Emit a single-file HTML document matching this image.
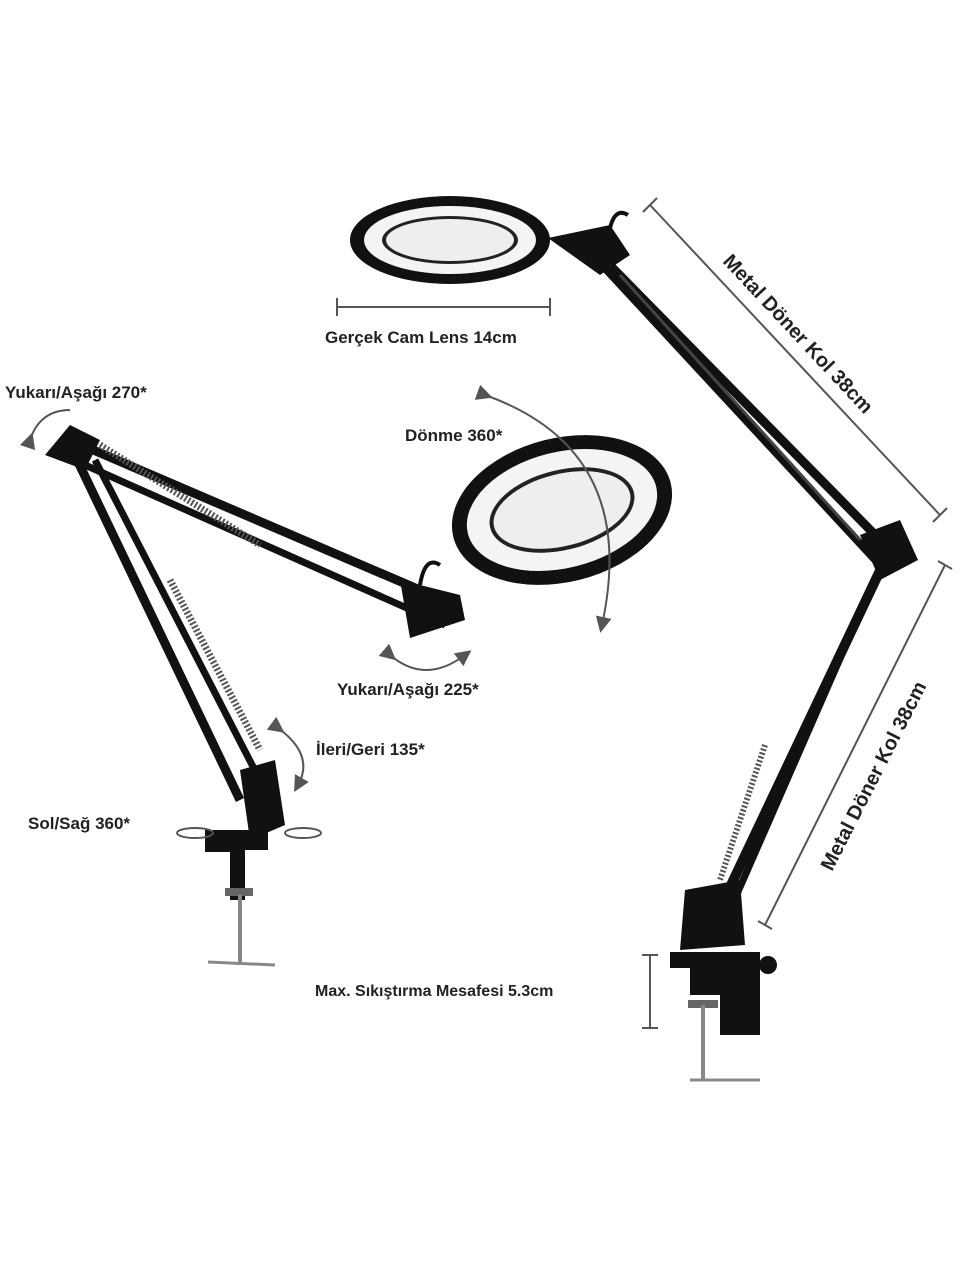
<!DOCTYPE html>
<html><head><meta charset="utf-8"><style>
html,body{margin:0;padding:0;background:#fff}
svg{display:block}
text{font-family:"Liberation Sans",sans-serif;font-weight:bold;fill:#222}
</style></head><body>
<svg width="960" height="1280" viewBox="0 0 960 1280" xmlns="http://www.w3.org/2000/svg">
<defs>
<marker id="ah" markerWidth="8" markerHeight="8" refX="4" refY="4" orient="auto"><path d="M0,0 L8,4 L0,8 z" fill="#555"/></marker>
</defs>
<!-- top ring -->
<ellipse cx="450" cy="240" rx="100" ry="44" fill="#111"/>
<ellipse cx="450" cy="240" rx="86" ry="34" fill="#f4f4f4"/>
<ellipse cx="450" cy="240" rx="68" ry="24" fill="#222"/>
<ellipse cx="450" cy="240" rx="64" ry="21" fill="#eee"/>
<!-- dimension lens -->
<line x1="337" y1="307" x2="550" y2="307" stroke="#555" stroke-width="2"/>
<line x1="337" y1="298" x2="337" y2="316" stroke="#555" stroke-width="2"/>
<line x1="550" y1="298" x2="550" y2="316" stroke="#555" stroke-width="2"/>
<text x="325" y="343" font-size="17">Gerçek Cam Lens 14cm</text>
<!-- right lamp arm upper -->
<path d="M548,238 L610,225 L630,255 L600,275 Z" fill="#111"/>
<path d="M608,240 Q612,205 628,215" stroke="#111" stroke-width="4" fill="none"/>
<line x1="590" y1="245" x2="885" y2="545" stroke="#111" stroke-width="9"/>
<line x1="605" y1="268" x2="880" y2="565" stroke="#111" stroke-width="8"/>
<line x1="620" y1="275" x2="860" y2="540" stroke="#444" stroke-width="3"/>
<path d="M860,535 L900,520 L918,560 L880,580 Z" fill="#111"/>
<!-- right lower arm -->
<line x1="885" y1="560" x2="705" y2="940" stroke="#111" stroke-width="10"/>
<line x1="870" y1="590" x2="730" y2="910" stroke="#111" stroke-width="7"/>
<line x1="765" y1="745" x2="720" y2="880" stroke="#555" stroke-width="6" stroke-dasharray="2,2"/>
<path d="M685,890 L740,880 L745,945 L680,950 Z" fill="#111"/>
<!-- right clamp -->
<path d="M670,952 L760,952 L760,1035 L720,1035 L720,995 L690,995 L690,968 L670,968 Z" fill="#111"/>
<circle cx="768" cy="965" r="9" fill="#111"/>
<rect x="688" y="1000" width="30" height="8" fill="#666"/>
<line x1="703" y1="1005" x2="703" y2="1080" stroke="#888" stroke-width="4"/>
<line x1="690" y1="1080" x2="760" y2="1080" stroke="#888" stroke-width="3"/>
<!-- right dims -->
<line x1="650" y1="205" x2="940" y2="515" stroke="#555" stroke-width="2"/>
<line x1="643" y1="212" x2="657" y2="198" stroke="#555" stroke-width="2"/>
<line x1="933" y1="522" x2="947" y2="508" stroke="#555" stroke-width="2"/>
<text x="0" y="0" font-size="20" transform="translate(722,262) rotate(47)">Metal Döner Kol 38cm</text>
<line x1="945" y1="565" x2="765" y2="925" stroke="#555" stroke-width="2"/>
<line x1="938" y1="561" x2="952" y2="569" stroke="#555" stroke-width="2"/>
<line x1="758" y1="921" x2="772" y2="929" stroke="#555" stroke-width="2"/>
<text x="0" y="0" font-size="20" transform="translate(832,872) rotate(-63)">Metal Döner Kol 38cm</text>
<line x1="650" y1="955" x2="650" y2="1028" stroke="#555" stroke-width="2"/>
<line x1="642" y1="955" x2="658" y2="955" stroke="#555" stroke-width="2"/>
<line x1="642" y1="1028" x2="658" y2="1028" stroke="#555" stroke-width="2"/>
<text x="315" y="996" font-size="16">Max. Sıkıştırma Mesafesi 5.3cm</text>
<!-- left lamp -->
<path d="M45,455 L70,425 L100,440 L85,470 Z" fill="#111"/>
<line x1="70" y1="440" x2="455" y2="605" stroke="#111" stroke-width="9"/>
<line x1="85" y1="465" x2="445" y2="625" stroke="#111" stroke-width="7"/>
<line x1="100" y1="445" x2="260" y2="545" stroke="#555" stroke-width="7" stroke-dasharray="2,2"/>
<path d="M400,580 L460,595 L465,620 L410,638 Z" fill="#111"/>
<path d="M420,585 Q425,555 440,565" stroke="#111" stroke-width="4" fill="none"/>
<line x1="70" y1="445" x2="240" y2="800" stroke="#111" stroke-width="9"/>
<line x1="95" y1="460" x2="265" y2="790" stroke="#111" stroke-width="7"/>
<line x1="170" y1="580" x2="260" y2="750" stroke="#555" stroke-width="7" stroke-dasharray="2,2"/>
<path d="M240,770 L275,760 L285,825 L250,840 Z" fill="#111"/>
<path d="M205,830 L268,830 L268,850 L245,850 L245,900 L230,900 L230,852 L205,852 Z" fill="#111"/>
<rect x="225" y="888" width="28" height="8" fill="#666"/>
<line x1="240" y1="895" x2="240" y2="965" stroke="#888" stroke-width="4"/>
<line x1="208" y1="962" x2="275" y2="965" stroke="#888" stroke-width="3"/>
<!-- ring 2 -->
<g transform="rotate(-14 562 510)">
<ellipse cx="562" cy="510" rx="112" ry="72" fill="#111"/>
<ellipse cx="562" cy="510" rx="97" ry="58" fill="#f4f4f4"/>
<ellipse cx="562" cy="510" rx="74" ry="40" fill="#222"/>
<ellipse cx="562" cy="510" rx="70" ry="36" fill="#eee"/>
</g>
<!-- rotation arrows -->
<path d="M485,395 Q640,450 602,625" stroke="#555" stroke-width="2" fill="none" marker-start="url(#ah)" marker-end="url(#ah)"/>
<path d="M30,440 Q40,410 70,410" stroke="#555" stroke-width="2" fill="none" marker-start="url(#ah)"/>
<path d="M390,655 Q425,685 465,655" stroke="#555" stroke-width="2" fill="none" marker-start="url(#ah)" marker-end="url(#ah)"/>
<path d="M278,728 Q315,755 298,785" stroke="#555" stroke-width="2" fill="none" marker-start="url(#ah)" marker-end="url(#ah)"/>
<ellipse cx="195" cy="833" rx="18" ry="5" stroke="#555" stroke-width="2" fill="none"/>
<ellipse cx="303" cy="833" rx="18" ry="5" stroke="#555" stroke-width="2" fill="none"/>
<!-- labels -->
<text x="5" y="398" font-size="17">Yukarı/Aşağı 270*</text>
<text x="405" y="441" font-size="17">Dönme 360*</text>
<text x="337" y="695" font-size="17">Yukarı/Aşağı 225*</text>
<text x="316" y="755" font-size="17">İleri/Geri 135*</text>
<text x="28" y="829" font-size="17">Sol/Sağ 360*</text>
</svg>
</body></html>
